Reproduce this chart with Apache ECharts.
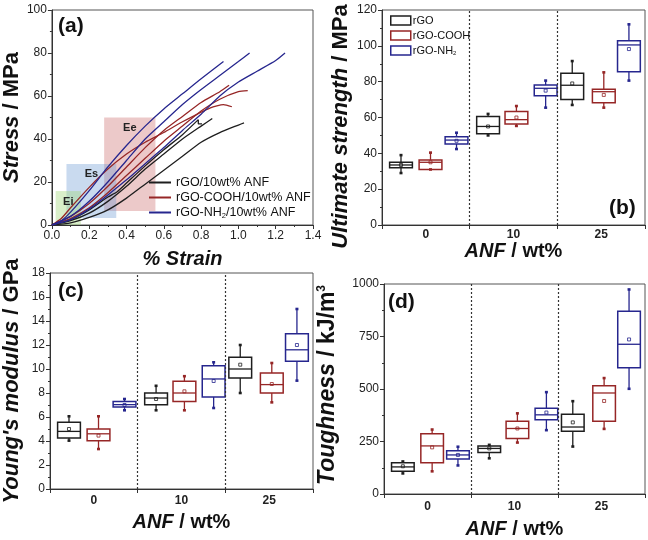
<!DOCTYPE html>
<html>
<head>
<meta charset="utf-8">
<script src="https://cdn.jsdelivr.net/npm/echarts@6/dist/echarts.min.js"></script>
<style>
  html, body { margin: 0; padding: 0; background: #fff; }
  #chart { width: 648px; height: 540px; }
</style>
</head>
<body>
<div id="chart"></div>
<script>
// stress-strain curves, [strain %, stress MPa]
const rgoCurveA = [[0,0],[0.1,2],[0.2,5.5],[0.3,11],[0.4,18],[0.5,26],[0.6,33],[0.7,40],[0.8,46],[0.86,49.5]];
const rgoCurveB = [[0,0],[0.1,1],[0.2,3.5],[0.3,7],[0.4,12.5],[0.5,19],[0.6,25.5],[0.7,32],[0.8,38.5],[0.9,43],[1.0,46.5],[1.03,47.5]];
const rgoCurveC = [[0,0],[0.1,2.5],[0.2,7],[0.3,13],[0.35,15.5],[0.4,19.5],[0.5,27.5],[0.6,35],[0.7,42],[0.785,49],[0.785,47],[0.805,47]];
const coohCurveA = [[0,0],[0.1,4],[0.2,10],[0.3,18],[0.4,27],[0.5,36],[0.6,44],[0.7,50.5],[0.8,57],[0.9,62],[0.95,65]];
const coohCurveB = [[0,0],[0.1,3],[0.2,8],[0.3,15],[0.4,23],[0.5,31],[0.6,39],[0.7,46],[0.8,53],[0.9,58.5],[1.0,62],[1.05,62.5]];
const coohCurveC = [[0,0],[0.05,3],[0.1,8],[0.2,17.5],[0.3,26],[0.4,33],[0.5,38.5],[0.6,43],[0.7,48],[0.85,54.5],[0.92,56],[0.965,55]];
const nh2CurveA = [[0,0],[0.05,2],[0.1,6],[0.2,16],[0.3,27],[0.4,37],[0.5,46],[0.6,54],[0.7,61],[0.8,68],[0.92,76]];
const nh2CurveB = [[0,0],[0.1,4],[0.2,11],[0.3,20],[0.4,30],[0.5,40],[0.6,48],[0.7,56],[0.8,63],[0.9,69.5],[1.0,76],[1.06,80]];
const nh2CurveC = [[0,0],[0.1,2.5],[0.2,7.5],[0.3,14],[0.4,21],[0.5,28.5],[0.6,36],[0.7,44],[0.8,51.5],[0.9,60],[1.0,66.5],[1.1,71.5],[1.2,76.5],[1.25,80]];

// shaded modulus regions: [x0, y0, x1, y1]
const regionEi = [0.02, 0, 0.155, 15.8];
const regionEs = [0.078, 3.2, 0.345, 28.4];
const regionEe = [0.28, 6.5, 0.555, 50];

const anfLabels = ['0', '10', '25'];
const curveNames = ['rGO/10wt% ANF', 'rGO-COOH/10wt% ANF', 'rGO-NH2/10wt% ANF'];
const groupNames = ['rGO', 'rGO-COOH', 'rGO-NH2'];

// box stats per ANF content: [min, Q1, median, Q3, max, mean]
const strengthRgo  = [[29, 32, 33.5, 35, 39, 33.5], [50, 51, 55, 60.5, 62, 55], [67, 70, 78, 84.7, 91.5, 79]];
const strengthCooh = [[31, 31, 35, 36.3, 40.4, 35], [55.3, 56.4, 58.8, 63.3, 66.4, 60], [65.5, 68.3, 74.4, 75.7, 85.2, 72.6]];
const strengthNh2  = [[42.4, 45.2, 47.4, 49.3, 51.5, 47], [65.5, 72.2, 76.3, 78.1, 80.6, 75], [80.6, 85.6, 100.5, 102.9, 112, 98.2]];

const modulusRgo  = [[4.03, 4.25, 4.8, 5.56, 6.06, 5.0], [6.56, 7.03, 7.58, 8.0, 8.6, 7.5], [8.0, 9.25, 10.0, 10.97, 12.0, 10.36]];
const modulusCooh = [[3.33, 4.03, 4.6, 5.0, 6.06, 4.45], [6.56, 7.3, 8.0, 8.97, 9.4, 8.14], [7.22, 8.0, 8.7, 9.67, 10.5, 8.75]];
const modulusNh2  = [[6.56, 6.83, 7.03, 7.3, 7.5, 7.0], [6.75, 7.67, 9.17, 10.28, 10.56, 9.0], [9.03, 10.64, 11.6, 12.94, 15.0, 12.0]];

const toughnessRgo  = [[98, 108, 129, 149, 155, 132], [170, 198, 217, 229, 234, 217], [226, 299, 319, 380, 442, 341]];
const toughnessCooh = [[108, 149, 229, 287, 307, 222], [245, 264, 312, 347, 384, 312], [310, 346, 481, 516, 552, 443]];
const toughnessNh2  = [[136, 167, 186, 206, 225, 186], [304, 353, 377, 408, 485, 388], [501, 601, 713, 870, 974, 736]];

// layout: box centres on a 0..9 axis (3 units per ANF group)
const boxSlots = [[0.65, 3.63, 6.51], [1.66, 4.6, 7.59], [2.55, 5.6, 8.45]];
const BOX_WIDTH = 0.78;

const FONT = '"Liberation Sans", Arial, sans-serif';
const colors = ['#1e1e1e', '#962626', '#26268e'];

const chart = echarts.init(document.getElementById('chart'));

const nameStyle = (size, padding) => ({
  fontFamily: FONT, fontSize: size, fontWeight: 'bold', color: '#111', padding,
  rich: {
    i: { fontFamily: FONT, fontSize: size, fontWeight: 'bold', fontStyle: 'italic', color: '#111' },
    sup: { fontFamily: FONT, fontSize: 12, fontWeight: 'bold', color: '#111', verticalAlign: 'top', padding: [0, 0, 10, 0] }
  }
});
const axisLine = { lineStyle: { color: '#333', width: 1 } };
const tickLabel = { fontFamily: FONT, fontSize: 12, color: '#222' };

const valueY = (idx, max, interval, name, gap, size, padding) => ({
  type: 'value', gridIndex: idx, min: 0, max, interval,
  name, nameLocation: 'middle', nameGap: gap, nameTextStyle: nameStyle(size, padding),
  axisLine: { show: true, ...axisLine },
  axisTick: { show: true, length: 4, lineStyle: { color: '#333' } },
  minorTick: { show: true, splitNumber: 2, length: 2, lineStyle: { color: '#333' } },
  axisLabel: { ...tickLabel, margin: 5, formatter: (v) => String(v) },
  splitLine: { show: false }
});

const groupX = (idx, gap, margin) => ({
  type: 'value', gridIndex: idx, min: 0, max: 9, position: 'bottom',
  name: '{i|ANF} / wt%', nameLocation: 'middle', nameGap: gap, nameTextStyle: nameStyle(20),
  axisLine: { show: true, ...axisLine },
  axisTick: { show: true, length: 4, customValues: [0, 3, 6, 9], lineStyle: { color: '#333' } },
  axisLabel: {
    ...tickLabel, fontWeight: 'bold', margin,
    customValues: [1.5, 4.5, 7.5],
    formatter: (v) => anfLabels[Math.round((v - 1.5) / 3)]
  },
  splitLine: { show: false }
});

const boxItem = (color) => (params, api) => {
  const x = api.value(0);
  const pt = (v) => api.coord([x, v]);
  const lo = pt(api.value(1)), q1 = pt(api.value(2)), med = pt(api.value(3));
  const q3 = pt(api.value(4)), hi = pt(api.value(5)), mean = pt(api.value(6));
  const half = api.size([BOX_WIDTH, 0])[0] / 2;
  const cx = lo[0];
  const thin = { stroke: color, lineWidth: 1.3, fill: null };
  const cap = { stroke: color, lineWidth: 2.6, fill: null };
  return {
    type: 'group',
    children: [
      { type: 'line', shape: { x1: cx, y1: q3[1], x2: cx, y2: hi[1] }, style: thin },
      { type: 'line', shape: { x1: cx, y1: q1[1], x2: cx, y2: lo[1] }, style: thin },
      { type: 'line', shape: { x1: cx - 1.5, y1: hi[1], x2: cx + 1.5, y2: hi[1] }, style: cap },
      { type: 'line', shape: { x1: cx - 1.5, y1: lo[1], x2: cx + 1.5, y2: lo[1] }, style: cap },
      { type: 'rect', shape: { x: cx - half, y: q3[1], width: half * 2, height: q1[1] - q3[1] },
        style: { stroke: color, lineWidth: 1.5, fill: null } },
      { type: 'line', shape: { x1: cx - half, y1: med[1], x2: cx + half, y2: med[1] }, style: thin },
      { type: 'rect', shape: { x: cx - 1.5, y: mean[1] - 1.5, width: 3, height: 3 },
        style: { stroke: color, lineWidth: 0.8, fill: null } }
    ]
  };
};

const boxSeries = (idx, stats) => stats.map((groupStats, g) => ({
  type: 'custom',
  name: groupNames[g],
  xAxisIndex: idx, yAxisIndex: idx,
  itemStyle: { color: colors[g] },
  renderItem: boxItem(colors[g]),
  encode: { x: 0, y: [1, 5] },
  data: groupStats.map((s, k) => [boxSlots[g][k], ...s]),
  markLine: g === 0 ? {
    silent: true, symbol: 'none', label: { show: false },
    lineStyle: { type: [2, 2], color: '#333', width: 1.2 },
    data: [{ xAxis: 3 }, { xAxis: 6 }]
  } : undefined
}));

const curveSeries = [
  [rgoCurveA, rgoCurveB, rgoCurveC],
  [coohCurveA, coohCurveB, coohCurveC],
  [nh2CurveA, nh2CurveB, nh2CurveC]
].flatMap((curves, g) => curves.map((c) => ({
  type: 'line', name: curveNames[g], xAxisIndex: 0, yAxisIndex: 0,
  data: c, symbol: 'none', smooth: 0.2, z: 3,
  lineStyle: { color: colors[g], width: 1.3 },
  itemStyle: { color: colors[g] }
})));

const area = (r, label, color) => [
  { xAxis: r[0], yAxis: r[3], name: label, itemStyle: { color } },
  { xAxis: r[2], yAxis: r[1] }
];

const regionSeries = {
  type: 'line', xAxisIndex: 0, yAxisIndex: 0, data: [], z: 1, silent: true,
  markArea: {
    silent: true,
    label: { show: true, position: 'insideTop', distance: 5, fontFamily: FONT, fontSize: 11, fontWeight: 'bold', color: '#222' },
    data: [
      area(regionEe, 'Ee', 'rgba(200,100,100,0.35)'),
      area(regionEs, 'Es', 'rgba(100,150,210,0.35)'),
      area(regionEi, 'Ei', 'rgba(160,215,120,0.4)')
    ]
  }
};

const subFmt = (n) => n.replace('NH2', 'NH{sub|2}');
const legendRich = (size) => ({
  sub: { fontFamily: FONT, fontSize: size - 5, color: '#111', verticalAlign: 'bottom', padding: [size - 5, 0, 0, 0] }
});

const letter = (text, left, top) => ({
  type: 'text', left, top,
  style: { text, font: 'bold 21px ' + FONT, fill: '#111' }
});

chart.setOption({
  animation: false,
  backgroundColor: '#fff',
  grid: [
    { left: 48, top: 10, width: 265, height: 215, show: true, borderColor: '#555', borderWidth: 1 },
    { left: 382, top: 10, width: 263, height: 215, show: true, borderColor: '#555', borderWidth: 1 },
    { left: 49, top: 273, width: 264, height: 216, show: true, borderColor: '#555', borderWidth: 1 },
    { left: 384, top: 284, width: 261, height: 215, show: true, borderColor: '#555', borderWidth: 1 }
  ],
  xAxis: [
    {
      type: 'value', gridIndex: 0, min: 0, max: 1.4, interval: 0.2,
      name: '{i|% Strain}', nameLocation: 'middle', nameGap: 24, nameTextStyle: nameStyle(20),
      axisLine: { show: true, ...axisLine },
      axisTick: { show: true, length: 4, lineStyle: { color: '#333' } },
      minorTick: { show: true, splitNumber: 2, length: 2, lineStyle: { color: '#333' } },
      axisLabel: { ...tickLabel, margin: 5, formatter: (v) => v.toFixed(1) },
      splitLine: { show: false }
    },
    groupX(1, 13, 4),
    groupX(2, 23, 6),
    groupX(3, 25, 7)
  ],
  yAxis: [
    valueY(0, 100, 20, '{i|Stress} / MPa', 28, 22),
    valueY(1, 120, 20, '{i|Ultimate strength} / MPa', 30, 22, [0, 18, 0, 0]),
    valueY(2, 18, 2, "{i|Young's modulus} / GPa", 27, 22),
    valueY(3, 1000, 250, '{i|Toughness} / kJ/m{sup|3}', 45, 23, [0, 0, 0, 8])
  ],
  legend: [
    {
      data: curveNames.map((n) => ({ name: n, icon: 'rect' })),
      orient: 'vertical', left: 149, top: 176, padding: 0,
      itemWidth: 22, itemHeight: 2, itemGap: 2, selectedMode: false,
      formatter: subFmt,
      textStyle: { fontFamily: FONT, fontSize: 12.5, color: '#111', rich: legendRich(12.5) }
    },
    {
      data: groupNames.map((n, g) => ({
        name: n, icon: 'rect',
        itemStyle: { color: '#fff', borderColor: colors[g], borderWidth: 1.5 }
      })),
      orient: 'vertical', left: 390, top: 15, padding: 0,
      itemWidth: 20, itemHeight: 9, itemGap: 4, selectedMode: false,
      formatter: subFmt,
      textStyle: { fontFamily: FONT, fontSize: 11, color: '#111', padding: [0, 0, 0, -3], rich: legendRich(11) }
    }
  ],
  graphic: [
    letter('(a)', 58, 16),
    letter('(b)', 609, 198),
    letter('(c)', 58, 281),
    letter('(d)', 388, 292)
  ],
  series: [
    regionSeries,
    ...curveSeries,
    ...boxSeries(1, [strengthRgo, strengthCooh, strengthNh2]),
    ...boxSeries(2, [modulusRgo, modulusCooh, modulusNh2]),
    ...boxSeries(3, [toughnessRgo, toughnessCooh, toughnessNh2])
  ]
});
</script>
</body>
</html>
